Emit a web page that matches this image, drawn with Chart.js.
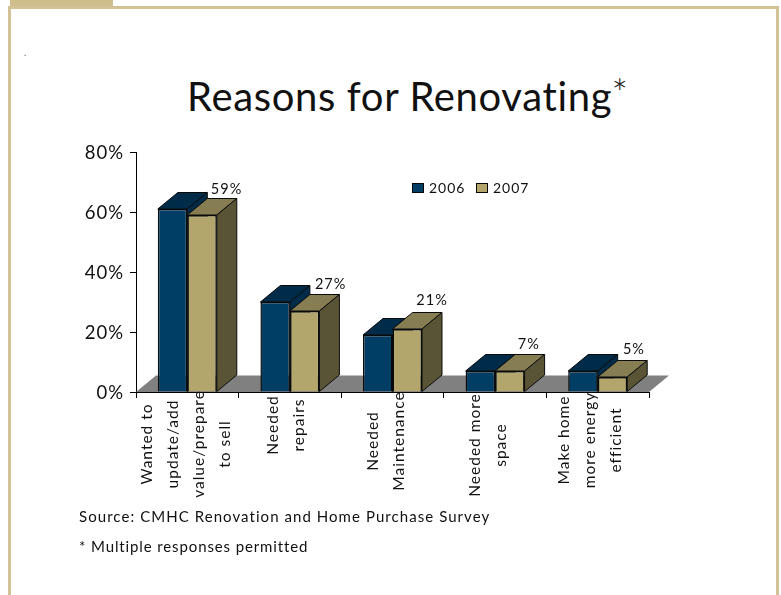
<!DOCTYPE html>
<html>
<head>
<meta charset="utf-8">
<title>Reasons for Renovating</title>
<script src="https://cdn.jsdelivr.net/npm/chart.js@4"></script>
<style>
  html, body { margin: 0; padding: 0; background: #fff; }
  #slide { position: relative; width: 781px; height: 595px; overflow: hidden; background: #fff; font-family: Lato, sans-serif; color: #111; }
  .rule { position: absolute; background: #d2c296; }
  #tab { left: 10px; top: 0; width: 103px; height: 8px; background: #cfbd8c; }
  #top { left: 8px; top: 6px; width: 771px; height: 3px; }
  #left { left: 8px; top: 6px; width: 3px; height: 589px; }
  #right { left: 776px; top: 6px; width: 3px; height: 589px; }
  canvas { position: absolute; left: 0; top: 0; }
  #title { position: absolute; left: 187px; top: 70px; font-size: 40px; line-height: 52px; letter-spacing: 0.65px; white-space: nowrap; }
  #title sup { font-size: 40px; font-weight: 300; line-height: 0; vertical-align: 3px; letter-spacing: 0; margin-left: -1px; }
  .note { position: absolute; left: 79px; font-size: 15px; line-height: 20px; white-space: nowrap; }
  #dot { position: absolute; left: 24px; top: 48px; font-size: 9px; line-height: 10px; color: #555; }
</style>
</head>
<body>
<div id="slide">
  <div class="rule" id="tab"></div>
  <div class="rule" id="top"></div>
  <div class="rule" id="left"></div>
  <div class="rule" id="right"></div>
  <div id="dot">.</div>
  <div id="title">Reasons for Renovating<sup>*</sup></div>
  <canvas id="chart" width="781" height="595"></canvas>
  <div class="note" style="top:506px;letter-spacing:1.06px">Source: CMHC Renovation and Home Purchase Survey</div>
  <div class="note" style="top:536px;letter-spacing:0.88px">* Multiple responses permitted</div>
</div>
<script>
// Survey results, percent of renovators
const categories = [
  ['Wanted to', 'update/add', 'value/prepare', 'to sell'],
  ['Needed', 'repairs'],
  ['Needed', 'Maintenance'],
  ['Needed more', 'space'],
  ['Make home', 'more energy', 'efficient']
];
const seriesNames = ['2006', '2007'];
const values2006 = [61, 30, 19, 7, 7];
const values2007 = [59, 27, 21, 7, 5];
const yTicks = [0, 20, 40, 60, 80];

// Extrusion of the pseudo-3D columns
const DEPTH_X = 20;
const DEPTH_Y = 16.5;
const TRACKING = '1px';
const INK = '#111';
const EDGE = '#0a0a0a';

// Category label block placement: shift from the tick centre, vertical centre
const labelShiftX = [-1.5, -4, -7, -7, -8];
const labelCentreY = [444, 425, 441, 445, 440];
const LABEL_LINE_GAP = 26;

// Value label offsets from the back top edge of each 2007 column
const valueNudgeX = [24.5, 26, 24.8, 19, 21.5];
const valueNudgeY = [-9, -9.7, -11.8, -10, -11];

const palette = {
  '2006': { front: '#003e66', top: '#002b49', side: '#002b49' },
  '2007': { front: '#b3a66c', top: '#867d53', side: '#5a5436' }
};

function poly(ctx, pts, fill) {
  ctx.beginPath();
  pts.forEach((p, i) => i ? ctx.lineTo(p[0], p[1]) : ctx.moveTo(p[0], p[1]));
  ctx.closePath();
  ctx.fillStyle = fill;
  ctx.fill();
  ctx.lineWidth = 1;
  ctx.strokeStyle = EDGE;
  ctx.stroke();
}

const column3d = {
  id: 'column3d',
  beforeDraw(chart) {
    chart.ctx.letterSpacing = TRACKING;
  },
  beforeDatasetsDraw(chart) {
    const { ctx, chartArea: a } = chart;
    ctx.save();

    // Grey floor the columns stand on
    ctx.beginPath();
    ctx.moveTo(a.left, a.bottom);
    ctx.lineTo(a.left + DEPTH_X, a.bottom - DEPTH_Y);
    ctx.lineTo(a.right + DEPTH_X, a.bottom - DEPTH_Y);
    ctx.lineTo(a.right, a.bottom);
    ctx.closePath();
    ctx.fillStyle = '#808080';
    ctx.fill();

    // Top and side faces, back series first; the front faces are painted over them afterwards
    seriesNames.forEach((name, s) => {
      const colours = palette[name];
      chart.getDatasetMeta(s).data.forEach(bar => {
        const x0 = bar.x - bar.width / 2;
        const x1 = bar.x + bar.width / 2;
        const top = bar.y;
        const base = bar.base;
        poly(ctx, [[x0, top], [x0 + DEPTH_X, top - DEPTH_Y], [x1 + DEPTH_X, top - DEPTH_Y], [x1, top]], colours.top);
        poly(ctx, [[x1, top], [x1 + DEPTH_X, top - DEPTH_Y], [x1 + DEPTH_X, base - DEPTH_Y], [x1, base]], colours.side);
      });
    });
    ctx.restore();
  },
  afterDatasetsDraw(chart) {
    const { ctx, scales } = chart;
    ctx.save();
    ctx.fillStyle = INK;

    // Value labels above the 2007 columns
    ctx.font = '14.5px Lato, sans-serif';
    ctx.textAlign = 'center';
    ctx.textBaseline = 'middle';
    chart.getDatasetMeta(1).data.forEach((bar, i) => {
      ctx.fillText(values2007[i] + '%', bar.x + valueNudgeX[i], bar.y - DEPTH_Y + valueNudgeY[i]);
    });

    // Vertical, centred multi-line category labels
    ctx.font = '15.5px Lato, sans-serif';
    categories.forEach((lines, i) => {
      const cx = scales.x.getPixelForTick(i) + labelShiftX[i];
      lines.forEach((line, j) => {
        const x = cx + (j - (lines.length - 1) / 2) * LABEL_LINE_GAP;
        ctx.save();
        ctx.translate(x, labelCentreY[i]);
        ctx.rotate(-Math.PI / 2);
        ctx.fillText(line, 0, 0);
        ctx.restore();
      });
    });

    // Legend
    ctx.font = '14px Lato, sans-serif';
    ctx.textAlign = 'left';
    const legendX = [412, 476];
    seriesNames.forEach((name, i) => {
      ctx.fillStyle = palette[name].front;
      ctx.strokeStyle = EDGE;
      ctx.lineWidth = 1;
      ctx.fillRect(legendX[i] + 0.5, 183.5, 11, 9);
      ctx.strokeRect(legendX[i] + 0.5, 183.5, 11, 9);
      ctx.fillStyle = INK;
      ctx.fillText(name, legendX[i] + 17, 188.5);
    });
    ctx.restore();
  }
};

new Chart(document.getElementById('chart'), {
  type: 'bar',
  data: {
    labels: categories,
    datasets: [
      { label: seriesNames[0], data: values2006, backgroundColor: palette['2006'].front, borderColor: EDGE, borderWidth: 1.5 },
      { label: seriesNames[1], data: values2007, backgroundColor: palette['2007'].front, borderColor: EDGE, borderWidth: 1.5 }
    ]
  },
  plugins: [column3d],
  options: {
    responsive: false,
    animation: false,
    events: [],
    categoryPercentage: 0.575,
    barPercentage: 1,
    layout: { padding: { left: 80, top: 152, right: 132, bottom: 197 } },
    plugins: { legend: { display: false }, title: { display: false }, tooltip: { enabled: false } },
    scales: {
      x: {
        grid: { display: true, drawOnChartArea: false, tickLength: 6, tickColor: '#000', offset: true },
        border: { color: '#000', width: 1 },
        ticks: { display: false },
        afterFit(scale) { scale.height = 6; }
      },
      y: {
        min: 0,
        max: 80,
        afterBuildTicks(scale) { scale.ticks = yTicks.map(value => ({ value })); },
        grid: { display: true, drawOnChartArea: false, tickLength: 6, tickColor: '#000' },
        border: { color: '#000', width: 1 },
        ticks: {
          padding: 6,
          labelOffset: 1,
          color: INK,
          font: { family: 'Lato, sans-serif', size: 18.5 },
          callback: v => v + '%'
        },
        afterFit(scale) { scale.width = 56; }
      }
    }
  }
});
</script>
</body>
</html>
